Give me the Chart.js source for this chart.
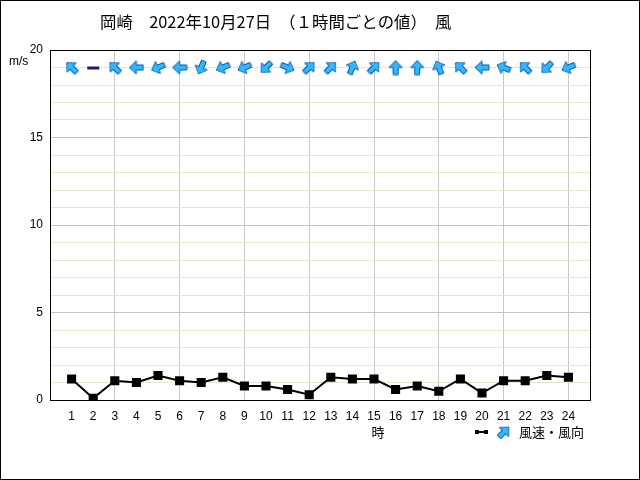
<!DOCTYPE html>
<html>
<head>
<meta charset="utf-8">
<script src="https://cdn.jsdelivr.net/npm/chart.js@4"></script>
<style>
    html, body { margin: 0; padding: 0; background: #fff; }
    #wind { display: block; }
</style>
</head>
<body>
<canvas id="wind" width="640" height="480"></canvas>
<script>
    // 時刻（1〜24時）
    var hours = [1, 2, 3, 4, 5, 6, 7, 8, 9, 10, 11, 12, 13, 14, 15, 16, 17, 18, 19, 20, 21, 22, 23, 24];
    // 風速 m/s
    var windSpeed = [1.2, 0.1, 1.1, 1.0, 1.4, 1.1, 1.0, 1.3, 0.8, 0.8, 0.6, 0.3,
                     1.3, 1.2, 1.2, 0.6, 0.8, 0.5, 1.2, 0.4, 1.1, 1.1, 1.4, 1.3];
    // 風向（吹いてくる方向）
    var windDir = ['南東', '静穏', '南東', '東', '東北東', '東', '北北東', '東北東', '東北東', '北東', '西北西', '南西',
                   '南西', '南南西', '南西', '南', '南', '南南東', '南東', '東', '東南東', '南東', '北東', '東北東'];
    var yTicks = [0, 5, 10, 15, 20];
    var compass = ['北', '北北東', '北東', '東北東', '東', '東南東', '南東', '南南東',
                   '南', '南南西', '南西', '西南西', '西', '西北西', '北西', '北北西'];
    var ARROW_ROW = 19;

    // 上向きの矢印アイコン
    function makeArrow() {
        var c = document.createElement('canvas');
        c.width = 16; c.height = 16;
        var g = c.getContext('2d');
        g.beginPath();
        g.moveTo(8, 1);
        g.lineTo(14.5, 8);
        g.lineTo(10.5, 8);
        g.lineTo(10.5, 15);
        g.lineTo(5.5, 15);
        g.lineTo(5.5, 8);
        g.lineTo(1.5, 8);
        g.closePath();
        g.fillStyle = '#33b8ff';
        g.fill();
        g.lineWidth = 1;
        g.strokeStyle = '#0058b0';
        g.stroke();
        return c;
    }

    function makeCalm() {
        var c = document.createElement('canvas');
        c.width = 16; c.height = 16;
        var g = c.getContext('2d');
        g.fillStyle = '#1c1c78';
        g.fillRect(2, 7, 12, 3);
        return c;
    }

    var arrowIcon = makeArrow();
    var calmIcon = makeCalm();

    function pointing(dir) {
        var i = compass.indexOf(dir);
        if (i < 0) return 0;
        return (i * 22.5 + 180) % 360;
    }

    var speedPoints = hours.map(function(h, i) { return {x: h, y: windSpeed[i]}; });
    var arrowPoints = hours.map(function(h) { return {x: h, y: ARROW_ROW}; });

    var FONT = '"Liberation Sans", "DejaVu Sans", sans-serif';
    var JFONT = '"Noto Sans CJK JP", sans-serif';

    var decor = {
        id: 'decor',
        beforeDatasetsDraw: function(chart) {
            var a = chart.chartArea;
            var ctx = chart.ctx;
            ctx.save();
            ctx.strokeStyle = '#000';
            ctx.lineWidth = 1;
            ctx.strokeRect(Math.round(a.left) + 0.5, Math.round(a.top) + 0.5,
                           Math.round(a.right - a.left), Math.round(a.bottom - a.top));
            ctx.restore();
        },
        afterDraw: function(chart) {
            var ctx = chart.ctx;
            ctx.save();
            ctx.fillStyle = '#000';
            ctx.textBaseline = 'middle';

            ctx.font = '16.4px ' + JFONT;
            ctx.fillText('岡崎　2022年10月27日　（１時間ごとの値）　風', 100, 22);

            ctx.font = '12px ' + FONT;
            ctx.fillText('m/s', 9, 62);

            ctx.font = '13px ' + JFONT;
            ctx.textAlign = 'center';
            ctx.fillText('時', 378, 432);

            // 凡例
            ctx.strokeStyle = '#000';
            ctx.lineWidth = 2;
            ctx.beginPath();
            ctx.moveTo(476, 432);
            ctx.lineTo(486, 432);
            ctx.stroke();
            ctx.fillRect(475, 430, 4, 4);
            ctx.fillRect(484, 430, 4, 4);
            ctx.translate(504, 432);
            ctx.rotate(Math.PI / 4);
            ctx.drawImage(arrowIcon, -8, -8);
            ctx.setTransform(1, 0, 0, 1, 0, 0);
            ctx.textAlign = 'left';
            ctx.fillText('風速・風向', 519, 432);

            ctx.lineWidth = 1;
            ctx.strokeRect(0.5, 0.5, 639, 479);
            ctx.restore();
        }
    };

    new Chart(document.getElementById('wind'), {
        type: 'line',
        data: {
            datasets: [{
                label: '風速',
                data: speedPoints,
                borderColor: '#000',
                backgroundColor: '#000',
                borderWidth: 2,
                pointStyle: 'rect',
                pointRadius: 5,
                tension: 0
            }, {
                label: '風向',
                data: arrowPoints,
                showLine: false,
                pointStyle: function(c) {
                    return windDir[c.dataIndex] === '静穏' ? calmIcon : arrowIcon;
                },
                rotation: windDir.map(pointing),
                pointRadius: 8
            }]
        },
        options: {
            responsive: false,
            animation: false,
            layout: { padding: { top: 50, right: 50, left: 0, bottom: 0 } },
            plugins: {
                legend: { display: false },
                title: { display: false },
                tooltip: { enabled: false }
            },
            scales: {
                x: {
                    type: 'linear',
                    min: 0,
                    max: 25,
                    afterFit: function(s) { s.height = 80; },
                    border: { display: false },
                    grid: {
                        drawTicks: false,
                        color: function(c) {
                            var v = c.tick ? c.tick.value : 0;
                            return (v > 0 && v < 25 && v % 3 === 0) ? '#c8c8c8' : 'rgba(0,0,0,0)';
                        }
                    },
                    ticks: {
                        stepSize: 1,
                        autoSkip: false,
                        maxRotation: 0,
                        padding: 9,
                        color: '#000',
                        font: { size: 12, family: FONT },
                        callback: function(v) { return hours.indexOf(v) >= 0 ? String(v) : ''; }
                    }
                },
                y: {
                    min: 0,
                    max: 20,
                    afterFit: function(s) { s.width = 50; },
                    border: { display: false },
                    grid: {
                        drawTicks: false,
                        color: function(c) {
                            var v = c.tick ? c.tick.value : 0;
                            return yTicks.indexOf(v) >= 0 ? '#c4c4c4' : '#eae4cc';
                        }
                    },
                    ticks: {
                        stepSize: 1,
                        autoSkip: false,
                        padding: 7,
                        color: '#000',
                        font: { size: 12, family: FONT },
                        callback: function(v) { return yTicks.indexOf(v) >= 0 ? String(v) : ''; }
                    }
                }
            }
        },
        plugins: [decor]
    });
</script>
</body>
</html>
